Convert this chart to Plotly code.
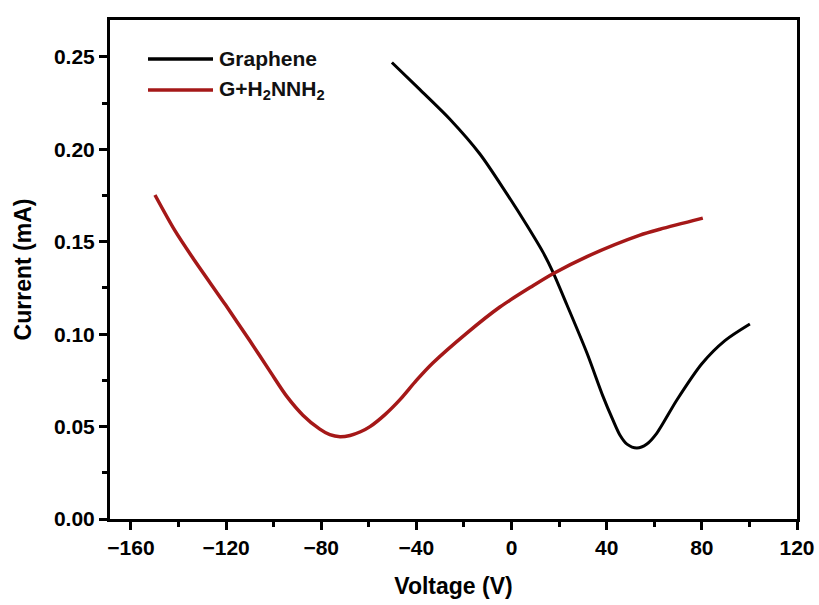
import plotly.graph_objects as go

# Transfer curves: drain current versus gate voltage
graphene_v = [-50.3, -38.5, -25.9, -13.3, -1.9, 6.5, 13.2, 17.4, 23.3, 31.7,
              38.4, 42.6, 45.6, 48.5, 52.7, 56.9, 61.1, 69.5, 80.0, 89.7, 100.2]
graphene_i = [0.247, 0.2323, 0.2163, 0.1975, 0.1758, 0.1588, 0.1444, 0.1336, 0.1158, 0.0898,
              0.0665, 0.0536, 0.0453, 0.0405, 0.0384, 0.0406, 0.0465, 0.0644, 0.0840, 0.0965, 0.1055]

hydrazine_v = [-149.9, -141.5, -133.9, -120.1, -110.0, -101.6, -94.4, -87.7, -80.6, -76.4,
               -72.1, -67.9, -63.5, -59.5, -53.2, -46.9, -40.0, -33.1, -18.8, -4.9,
               9.0, 17.4, 31.7, 54.0, 62.4, 80.4]
hydrazine_i = [0.1753, 0.1560, 0.1411, 0.1156, 0.0964, 0.0800, 0.0662, 0.0562, 0.0486, 0.0456,
               0.0445, 0.0452, 0.0472, 0.0500, 0.0565, 0.0646, 0.0750, 0.0844, 0.1006, 0.1147,
               0.1262, 0.1327, 0.1420, 0.1536, 0.1568, 0.1628]

series_names = ["Graphene", "G+H<sub>2</sub>NNH<sub>2</sub>"]
series_colors = ["#000000", "#A51818"]

x_ticks = [-160, -120, -80, -40, 0, 40, 80, 120]
y_ticks = [0.00, 0.05, 0.10, 0.15, 0.20, 0.25]

FONT = "Liberation Sans, Arial, sans-serif"

fig = go.Figure()
fig.add_trace(go.Scatter(x=graphene_v, y=graphene_i, mode="lines",
                         line=dict(color=series_colors[0], width=3, shape="spline", smoothing=0.8),
                         name=series_names[0], showlegend=False))
fig.add_trace(go.Scatter(x=hydrazine_v, y=hydrazine_i, mode="lines",
                         line=dict(color=series_colors[1], width=3.5, shape="spline", smoothing=0.8),
                         name=series_names[1], showlegend=False))

# Hand-placed legend: long line samples with labels beside them
L, R, T, B = 110, 22, 20, 86
W, H = 819, 605
pw, ph = W - L - R, H - T - B


def px_x(p):
    return (p - L) / pw


def px_y(p):
    return (H - B - p) / ph


legend_rows = [59, 90]
for name, color, yrow in zip(series_names, series_colors, legend_rows):
    fig.add_shape(type="line", xref="paper", yref="paper",
                  x0=px_x(148), x1=px_x(213), y0=px_y(yrow), y1=px_y(yrow),
                  line=dict(color=color, width=3.5))
    fig.add_annotation(xref="paper", yref="paper", x=px_x(217), y=px_y(yrow),
                       text="<b>" + name + "</b>", showarrow=False,
                       xanchor="left", yanchor="middle",
                       font=dict(family=FONT, size=21, color="#111111"))

axis_common = dict(
    showline=True, linecolor="black", linewidth=3, mirror=True,
    ticks="outside", ticklen=8, tickwidth=2.5, tickcolor="black",
    showgrid=False, zeroline=False, automargin=False,
    tickfont=dict(family=FONT, size=21, color="black", weight="bold"),
)

fig.update_xaxes(
    range=[-168.8, 120], tickvals=x_ticks,
    ticktext=[str(v).replace("-", "\u2212") for v in x_ticks],
    minor=dict(ticks="outside", ticklen=5, tickwidth=2.5, tickcolor="black", dtick=20, tick0=0),
    title=dict(text="<b>Voltage (V)</b>", font=dict(family=FONT, size=23, color="black"), standoff=20),
    **axis_common,
)
fig.update_yaxes(
    range=[0, 0.270], tickvals=y_ticks, tickformat=".2f",
    minor=dict(ticks="outside", ticklen=5, tickwidth=2.5, tickcolor="black", dtick=0.025, tick0=0),
    title=dict(text="<b>Current (mA)</b>", font=dict(family=FONT, size=23, color="black"), standoff=16),
    **axis_common,
)

fig.update_layout(
    width=W, height=H,
    margin=dict(l=L, r=R, t=T, b=B),
    plot_bgcolor="white", paper_bgcolor="white",
)

fig.write_html("out.html")
